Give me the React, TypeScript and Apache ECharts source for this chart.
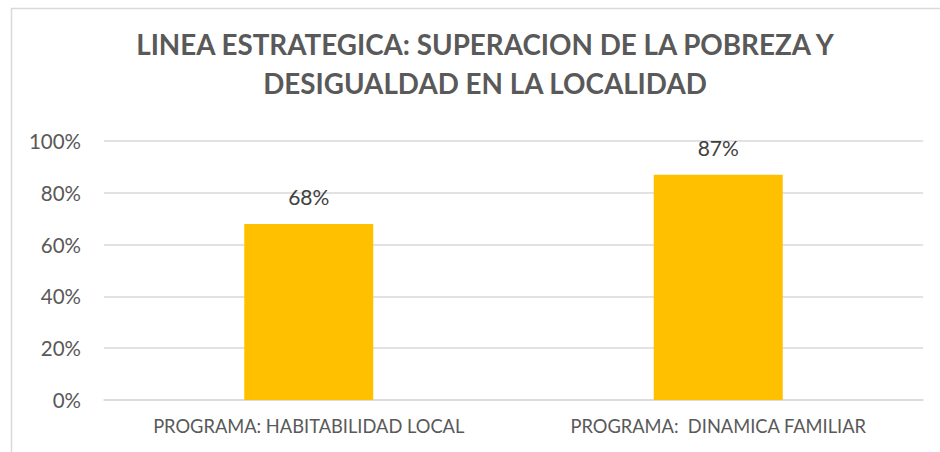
import React, { useEffect, useRef } from "react";
import * as echarts from "echarts";

const categories = ["PROGRAMA: HABITABILIDAD LOCAL", "PROGRAMA:  DINAMICA FAMILIAR"];
const values = [0.68, 0.87];
const titleLines = ["LINEA ESTRATEGICA: SUPERACION DE LA POBREZA Y", "DESIGUALDAD EN LA LOCALIDAD"];

export default function App() {
  const ref = useRef<HTMLDivElement>(null);
  useEffect(() => {
    const chart = echarts.init(ref.current!, null, { renderer: "svg" });
    chart.setOption({
      animation: false,
      backgroundColor: "#ffffff",
      textStyle: { fontFamily: "Lato" },
      title: {
        text: titleLines.join("\n"),
        left: 480,
        textAlign: "center",
        top: 20,
        textStyle: {
          fontFamily: "Lato",
          fontWeight: "bold",
          fontSize: 27.8,
          lineHeight: 39,
          color: "#595959",
        },
      },
      graphic: [
        {
          type: "rect",
          shape: { x: 11.5, y: 8.5, width: 1000, height: 1000 },
          style: { fill: "none", stroke: "#d9d9d9", lineWidth: 1.5 },
          silent: true,
        },
      ],
      grid: { left: 104, right: 17, top: 141, bottom: 52, containLabel: false },
      xAxis: {
        type: "category",
        data: categories,
        axisLine: { lineStyle: { color: "#d9d9d9", width: 1.5 } },
        axisTick: { show: false },
        axisLabel: { color: "#595959", fontSize: 18.3, margin: 17, fontFamily: "Lato" },
      },
      yAxis: {
        type: "value",
        min: 0,
        max: 1,
        interval: 0.2,
        axisLine: { show: false },
        axisTick: { show: false },
        splitLine: { lineStyle: { color: "#d9d9d9", width: 1.5 } },
        axisLabel: {
          color: "#595959",
          fontSize: 20.5,
          margin: 23,
          fontFamily: "Lato",
          formatter: (v: number) => Math.round(v * 100) + "%",
        },
      },
      series: [
        {
          type: "bar",
          data: values,
          barWidth: "31.5%",
          itemStyle: { color: "#ffc000" },
          label: {
            show: true,
            position: "top",
            distance: 17,
            color: "#404040",
            fontSize: 21,
            fontFamily: "Lato",
            formatter: (p: any) => Math.round(p.value * 100) + "%",
          },
        },
      ],
    });
    return () => chart.dispose();
  }, []);
  return <div ref={ref} style={{ position: "absolute", left: 0, top: 0, width: 940, height: 452 }} />;
}
